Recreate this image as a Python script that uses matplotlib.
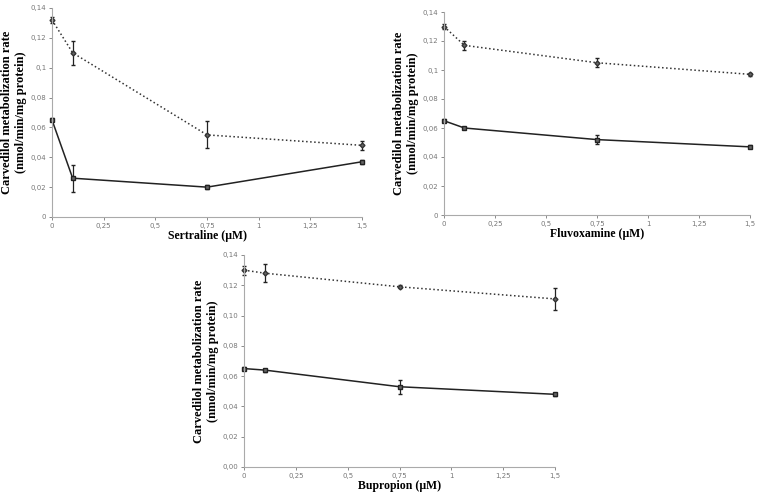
import numpy as np
import matplotlib
matplotlib.use('Agg')
import matplotlib.pyplot as plt
from matplotlib.ticker import FuncFormatter

# drug concentrations (uM)
conc = [0, 0.1, 0.75, 1.5]

# Sertraline
sert_dot = [0.132, 0.110, 0.055, 0.048]
sert_dot_err = [0.002, 0.008, 0.009, 0.003]
sert_sol = [0.065, 0.026, 0.020, 0.037]
sert_sol_err = [0.001, 0.009, 0.0015, 0.0015]

# Fluvoxamine
fluv_dot = [0.130, 0.117, 0.105, 0.097]
fluv_dot_err = [0.002, 0.003, 0.003, 0.001]
fluv_sol = [0.065, 0.060, 0.052, 0.047]
fluv_sol_err = [0.001, 0.001, 0.003, 0.001]

# Bupropion
bupr_dot = [0.130, 0.128, 0.119, 0.111]
bupr_dot_err = [0.003, 0.006, 0.001, 0.007]
bupr_sol = [0.065, 0.064, 0.053, 0.048]
bupr_sol_err = [0.001, 0.001, 0.0045, 0.001]

xticks = [0, 0.25, 0.5, 0.75, 1, 1.25, 1.5]
yticks = [0, 0.02, 0.04, 0.06, 0.08, 0.1, 0.12, 0.14]


def comma(v, pos):
    return ('%g' % round(v, 4)).replace('.', ',')


def comma2(v, pos):
    return ('%.2f' % v).replace('.', ',')


fig = plt.figure(figsize=(7.61, 4.95), dpi=100)
W, H = 761, 495


def panel(box, dot, dot_err, sol, sol_err, xlabel, yfmt):
    x0, y0, x1, y1 = box
    ax = fig.add_axes([x0 / W, 1 - y1 / H, (x1 - x0) / W, (y1 - y0) / H])
    # error bars drawn on their own so they stay solid
    for yv, ev in [(dot, dot_err), (sol, sol_err)]:
        eb = ax.errorbar(conc, yv, yerr=ev, ls='none', ecolor='#222222',
                         elinewidth=0.9, capsize=1.2)
        for art in eb.lines[1] + eb.lines[2]:
            art.set_clip_on(False)
    ax.plot(conc, dot, color='#333333', ls=':', lw=1.1, clip_on=False,
            marker='D', ms=2.5, mfc='#666666', mec='#333333')
    ax.plot(conc, sol, color='#222222', ls='-', lw=1.1, clip_on=False,
            marker='s', ms=2.5, mfc='#666666', mec='#222222')
    ax.set_xlim(0, 1.5)
    ax.set_ylim(0, 0.14)
    ax.set_xticks(xticks)
    ax.set_yticks(yticks)
    ax.xaxis.set_major_formatter(FuncFormatter(comma))
    ax.yaxis.set_major_formatter(FuncFormatter(yfmt))
    ax.tick_params(labelsize=5, colors='#777777', length=2, width=0.6, pad=2)
    for s in ['top', 'right']:
        ax.spines[s].set_visible(False)
    for s in ['left', 'bottom']:
        ax.spines[s].set_color('#aaaaaa')
        ax.spines[s].set_linewidth(0.8)
    ax.set_xlabel(xlabel, family='Liberation Serif', fontweight='bold',
                  fontsize=8.5, labelpad=1)
    ax.set_ylabel('Carvedilol metabolization rate\n(nmol/min/mg protein)',
                  family='Liberation Serif', fontweight='bold', fontsize=9,
                  labelpad=3, linespacing=1.2)
    return ax


panel((52, 8, 362, 217), sert_dot, sert_dot_err, sert_sol, sert_sol_err,
      'Sertraline (\u00b5M)', comma)
panel((444, 12, 750, 215), fluv_dot, fluv_dot_err, fluv_sol, fluv_sol_err,
      'Fluvoxamine (\u00b5M)', comma)
panel((244, 255, 555, 467), bupr_dot, bupr_dot_err, bupr_sol, bupr_sol_err,
      'Bupropion (\u00b5M)', comma2)

fig.savefig('out.png', dpi=100)
